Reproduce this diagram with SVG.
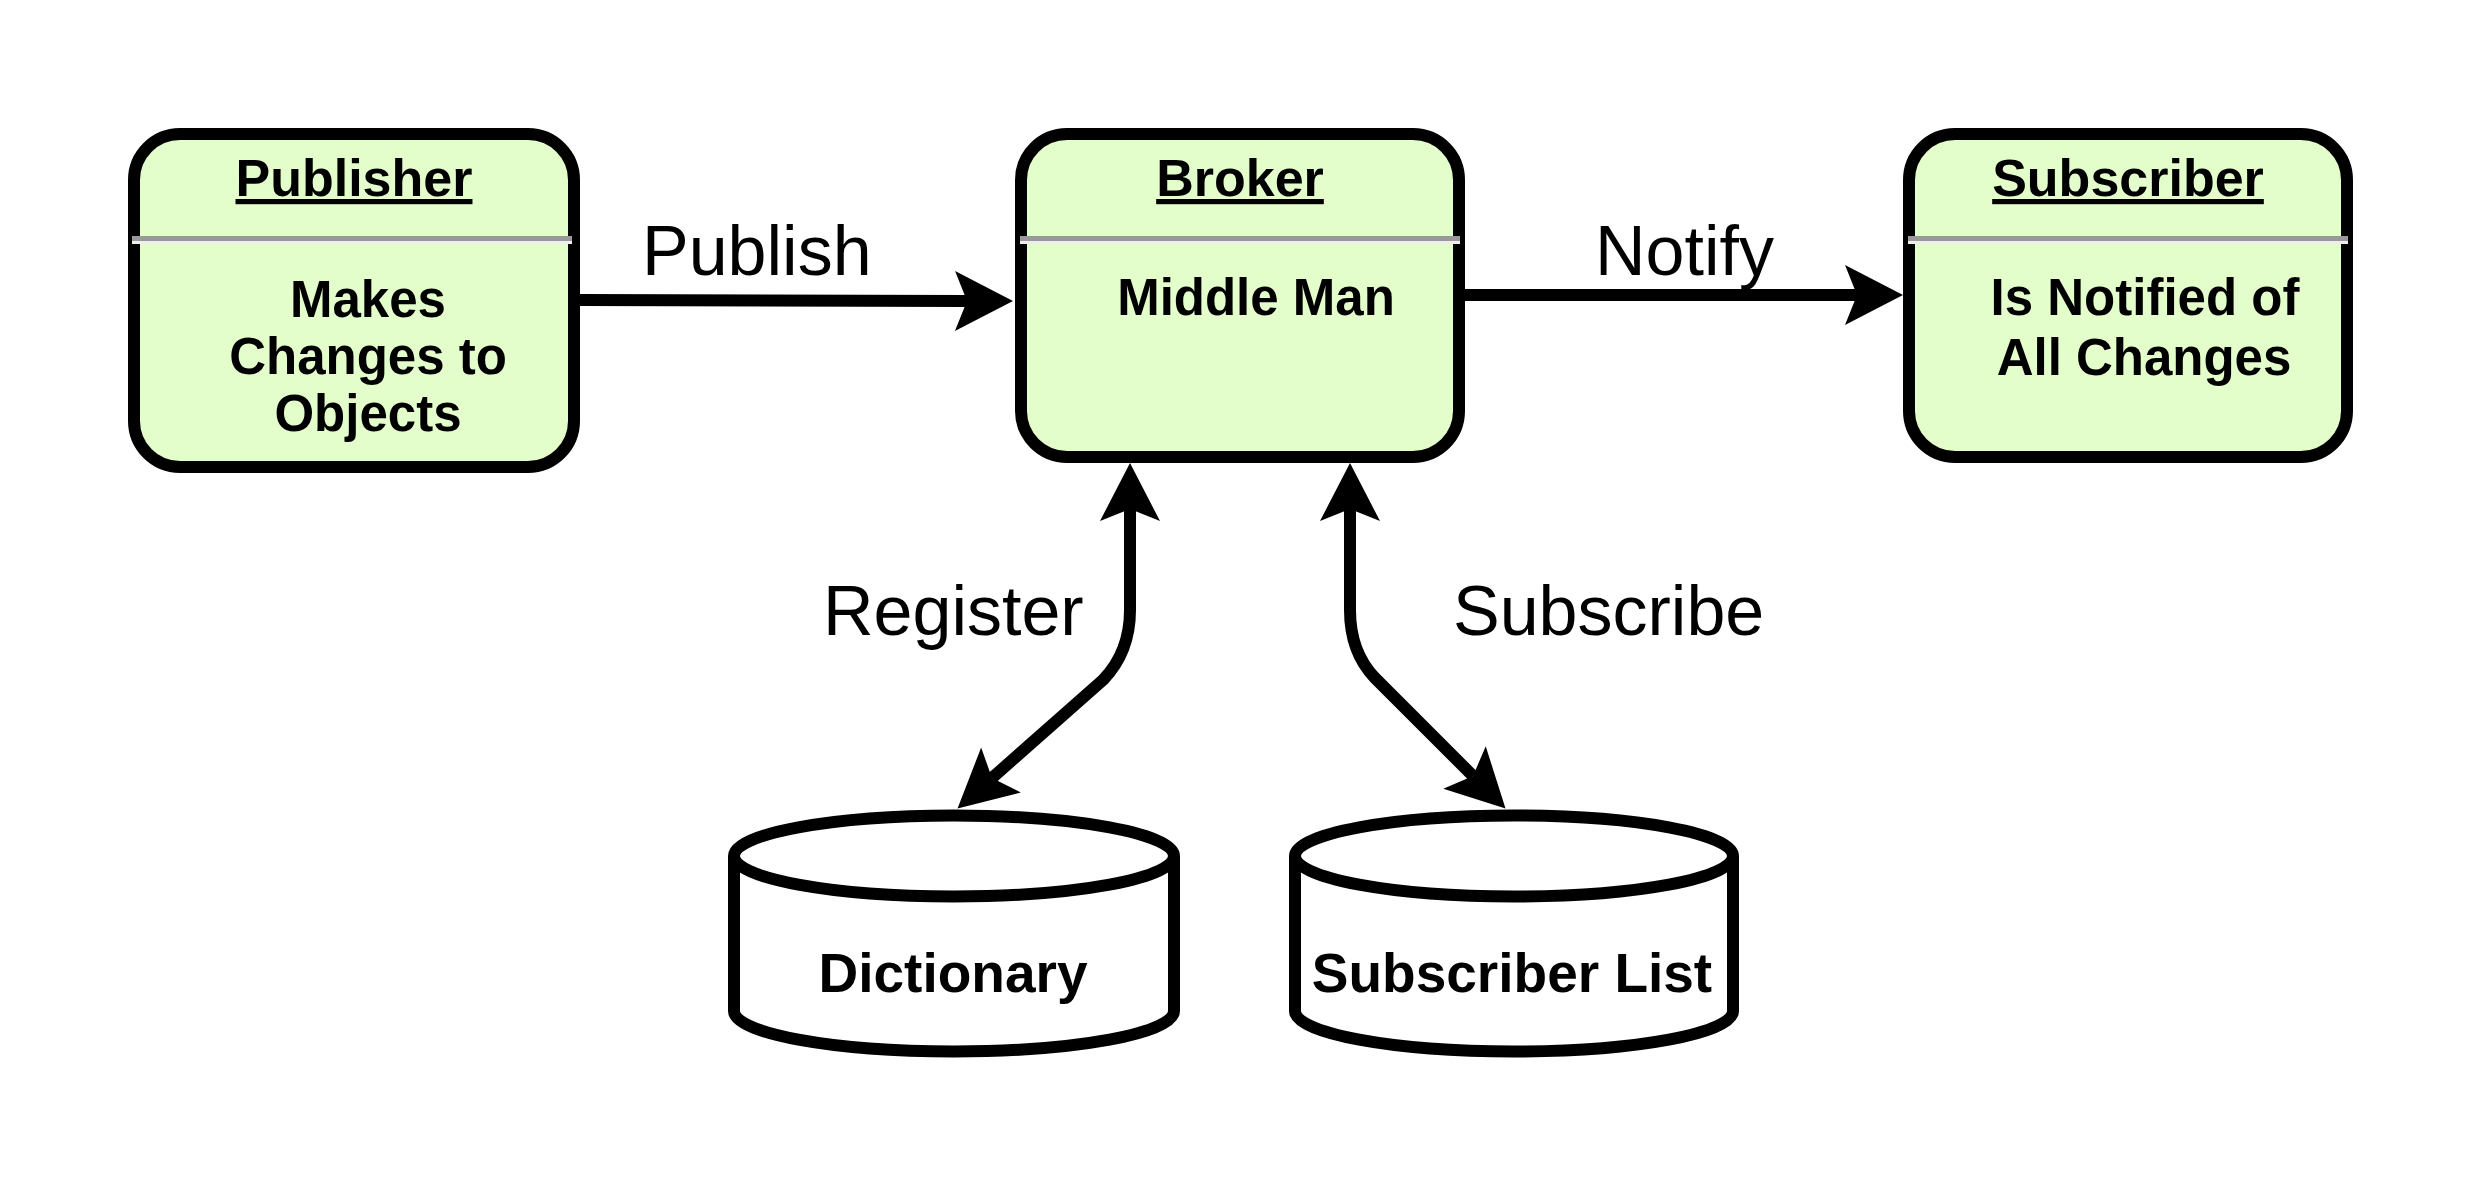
<svg xmlns="http://www.w3.org/2000/svg" width="2484" height="1188" viewBox="0 0 2484 1188">
<style>
.box{fill:#E3FDCB;stroke:#000;stroke-width:12}
.cyl{fill:#fff;stroke:#000;stroke-width:12}
.div1{fill:#999}
.div2{fill:#eee}
.title{font-family:"Liberation Sans",Arial,sans-serif;font-weight:bold;font-size:52px;text-anchor:middle;text-decoration:underline}
.body{font-family:"Liberation Sans",Arial,sans-serif;font-weight:bold;font-size:51px;text-anchor:middle}
.db{font-family:"Liberation Sans",Arial,sans-serif;font-weight:bold;font-size:55px;text-anchor:middle}
.lbl{font-family:"Liberation Sans",Arial,sans-serif;font-size:70px}
.conn{fill:none;stroke:#000;stroke-width:12}
</style>
<defs>
<marker id="ah" markerUnits="userSpaceOnUse" viewBox="-14 -32 62 64" markerWidth="62" markerHeight="64" refX="0" refY="0" orient="auto-start-reverse">
<path d="M46,0 L-12,-30 L0,0 L-12,30 Z" fill="#000"/>
</marker>
</defs>
<rect width="2484" height="1188" fill="#fff"/>
<g id="connectors">
<path class="conn" d="M580 300 L967 301" marker-end="url(#ah)"/>
<path class="conn" d="M1465 295 L1857 295" marker-end="url(#ah)"/>
<path class="conn" d="M1130 509 L1130 610 Q1130 652 1103 680 L992 778" marker-start="url(#ah)" marker-end="url(#ah)"/>
<path class="conn" d="M1350 509 L1350 610 Q1350 652 1375 678 L1473 776" marker-start="url(#ah)" marker-end="url(#ah)"/>
<text class="lbl" x="642" y="275">Publish</text>
<text class="lbl" x="1595" y="275">Notify</text>
<text class="lbl" x="823" y="635">Register</text>
<text class="lbl" x="1453" y="635">Subscribe</text>
</g>
<g id="publisher">
<rect class="box" x="134" y="134" width="440" height="333" rx="46"/>
<rect class="div1" x="132" y="236" width="440" height="5"/>
<rect class="div2" x="132" y="241" width="440" height="3"/>
<text class="title" x="354" y="196">Publisher</text>
<text class="body" x="368" y="317">Makes</text>
<text class="body" x="368" y="374">Changes to</text>
<text class="body" x="368" y="431">Objects</text>
</g>
<g id="broker">
<rect class="box" x="1021" y="134" width="438" height="323" rx="46"/>
<rect class="div1" x="1020" y="236" width="440" height="5"/>
<rect class="div2" x="1020" y="241" width="440" height="3"/>
<text class="title" x="1240" y="196">Broker</text>
<text class="body" x="1256" y="315">Middle Man</text>
</g>
<g id="subscriber">
<rect class="box" x="1909" y="134" width="438" height="323" rx="46"/>
<rect class="div1" x="1908" y="236" width="440" height="5"/>
<rect class="div2" x="1908" y="241" width="440" height="3"/>
<text class="title" x="2128" y="196">Subscriber</text>
<text class="body" x="2145" y="315">Is Notified of</text>
<text class="body" x="2144" y="375">All Changes</text>
</g>
<g id="dictionary">
<path class="cyl" d="M734 856 L734 1011 A220 40.5 0 0 0 1174 1011 L1174 856"/>
<ellipse class="cyl" cx="954" cy="856" rx="220" ry="40.5"/>
<text class="db" x="953" y="992">Dictionary</text>
</g>
<g id="subscriber-list">
<path class="cyl" d="M1295 856 L1295 1011 A219 40.5 0 0 0 1733 1011 L1733 856"/>
<ellipse class="cyl" cx="1514" cy="856" rx="219" ry="40.5"/>
<text class="db" x="1512" y="992">Subscriber List</text>
</g>
</svg>
